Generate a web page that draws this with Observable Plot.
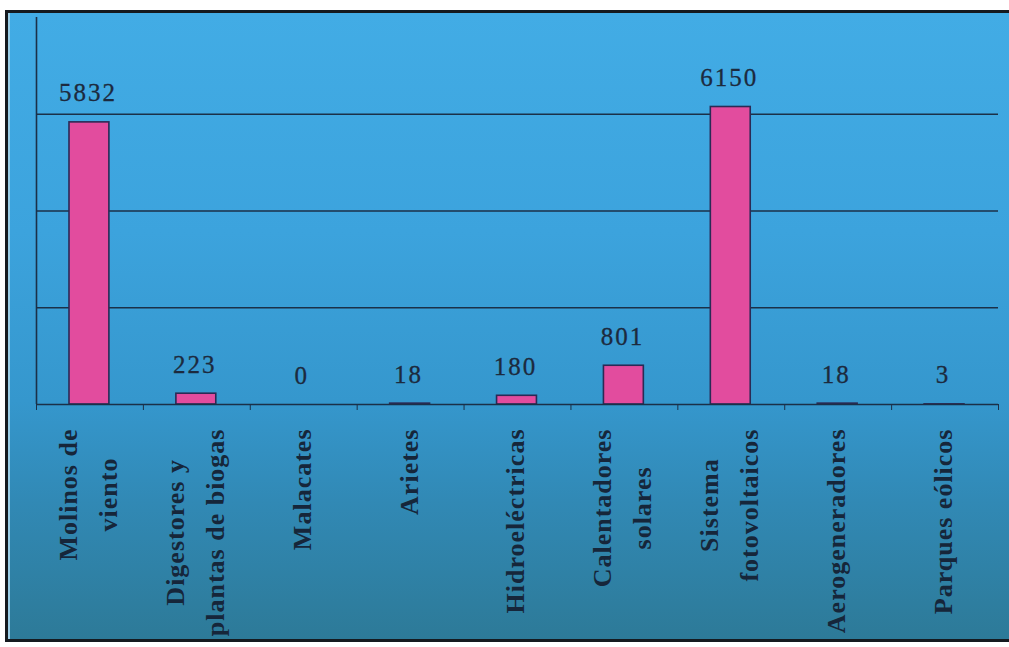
<!DOCTYPE html>
<html><head><meta charset="utf-8">
<script src="https://cdn.jsdelivr.net/npm/d3@7"></script>
<script src="https://cdn.jsdelivr.net/npm/@observablehq/plot@0.6"></script>
<style>
html,body{margin:0;padding:0;background:#fff;}
#wrap{position:relative;width:1009px;height:647px;overflow:hidden;}
#bg{position:absolute;left:5px;top:10px;width:1010px;height:626px;
 border-left:3px solid #151a1f;border-top:3px solid #151a1f;border-bottom:3px solid #151a1f;
 background:linear-gradient(to bottom,#42ace5 0%,#3ca3dd 35%,#3597cd 62%,#3189b5 78%,#2d7a98 100%);}
#bg::before{content:"";position:absolute;left:0;top:0;bottom:0;width:2px;background:#9ccfe8;}
#chart{position:absolute;left:0;top:0;}
g[aria-description="cat"] text{letter-spacing:1px;}
g[aria-description="val"] text{letter-spacing:2px;}
</style></head>
<body>
<div id="wrap"><div id="bg"></div><div id="chart"></div></div>
<script>
const categories = ["Molinos de\nviento","Digestores y\nplantas de biogas","Malacates","Arietes","Hidroeléctricas","Calentadores\nsolares","Sistema\nfotovoltaicos","Aerogeneradores","Parques eólicos"];
const values = [5832,223,0,18,180,801,6150,18,3];
const gridValues = [2000,4000,6000];
const tickPositions = [0,1,2,3,4,5,6,7,8,9];

const data = categories.map((c,i)=>({i, c, v: values[i]}));
const ink = "#1b3048";

const chart = Plot.plot({
  width:1009, height:647,
  marginLeft:36, marginRight:11, marginTop:17, marginBottom:243,
  style:{background:"transparent", overflow:"visible"},
  x:{domain:[0,9], axis:null, label:null},
  y:{domain:[0,8000], axis:null, label:null},
  marks:[
    Plot.ruleY(gridValues,{stroke:ink, strokeWidth:1.6}),
    Plot.rectY(data,{x1:"i", x2:d=>d.i+1, y:"v", insetLeft:33, insetRight:34, fill:"#e24c9e", stroke:"#2b2a55", strokeWidth:1.6}),
    Plot.ruleX([0],{stroke:ink, strokeWidth:1.6}),
    Plot.ruleY([0],{stroke:ink, strokeWidth:1.6}),
    Plot.axisX({ticks:tickPositions, tickSize:6, tickFormat:()=>"", stroke:ink, label:null}),
    Plot.text(data,{x:d=>d.i+0.5, y:"v", text:d=>String(d.v), dy:-29, dx:-2, fontSize:25,
      fontFamily:"Liberation Serif", fill:"#1c2a3e", stroke:"#1c2a3e", strokeWidth:0.3, ariaDescription:"val"}),
    Plot.text(data,{x:d=>d.i+0.5, y:0, text:"c", rotate:-90, textAnchor:"end", dy:24, dx:-6,
      fontSize:26, fontWeight:"bold", lineHeight:1.55, fill:"#16263a",
      fontFamily:"Liberation Serif", ariaDescription:"cat"})
  ]
});
document.getElementById("chart").append(chart);

// center shorter lines of each rotated category label on its longest line
chart.querySelectorAll('g[aria-description="cat"] text').forEach(t=>{
  const spans = t.querySelectorAll("tspan");
  if (spans.length < 2) return;
  let max = 0;
  spans.forEach(s=>{ max = Math.max(max, s.getComputedTextLength()); });
  t.setAttribute("text-anchor","middle");
  spans.forEach(s=>s.setAttribute("x", -max/2));
});
</script>
</body></html>
